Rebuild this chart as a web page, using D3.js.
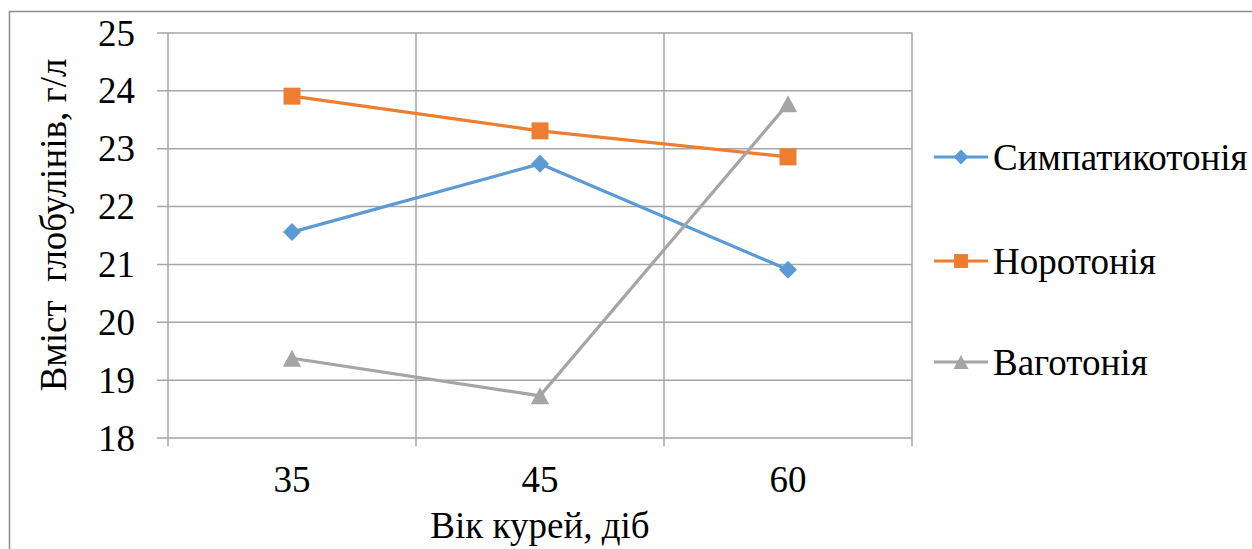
<!DOCTYPE html>
<html>
<head>
<meta charset="utf-8">
<script src="https://cdn.jsdelivr.net/npm/d3@7"></script>
</head>
<body style="margin:0">
<svg id="chart" width="1252" height="549"></svg>
<script>
// Age of the birds, days
const categories = ["35", "45", "60"];
// Globulin content, g/l, per autonomic tone group
const sympathicotonia = [21.55, 22.73, 20.9];
const normotonia = [23.9, 23.3, 22.85];
const vagotonia = [19.37, 18.72, 23.77];
const yTicks = [18, 19, 20, 21, 22, 23, 24, 25];
const seriesNames = ["Симпатикотонія", "Норотонія", "Ваготонія"];

const FONT = "Tinos, 'Liberation Serif', 'Times New Roman', serif";
const FS = "37px";

// marker outlines, centred on the point
function diamond(r) { return `M0,${-r}L${r},0L0,${r}L${-r},0Z`; }
function square(r) { return `M${-r},${-r}H${r}V${r}H${-r}Z`; }
function triangle(r) { return `M0,${-r}L${r * 1.08},${r}H${-r * 1.08}Z`; }

const series = [
  { name: seriesNames[0], values: sympathicotonia, color: "#5B9BD5", marker: diamond, r: 9 },
  { name: seriesNames[1], values: normotonia, color: "#ED7D31", marker: square, r: 8.5 },
  { name: seriesNames[2], values: vagotonia, color: "#A5A5A5", marker: triangle, r: 8.5 }
];

const svg = d3.select("#chart");
const margin = { left: 168, right: 340, top: 32.5, bottom: 111.5 };
const W = 1252, H = 549;
const plotW = W - margin.left - margin.right;
const plotH = H - margin.top - margin.bottom;

// outer chart frame (top and left edges fall inside the page)
svg.append("path")
  .attr("d", `M9.5,${H}V11.5H${W}`)
  .attr("fill", "none").attr("stroke", "#8c8c8c").attr("stroke-width", 1.5);

const x = d3.scaleBand().domain(categories).range([0, plotW]).padding(0);
const y = d3.scaleLinear().domain([18, 25]).range([plotH, 0]);

const g = svg.append("g").attr("transform", `translate(${margin.left},${margin.top})`);

const gridColor = "#a6a6a6";

// horizontal gridlines with outside tick marks
const yAxis = g.append("g")
  .call(d3.axisLeft(y).tickValues(yTicks).tickSize(-plotW).tickSizeOuter(0).tickPadding(33).tickFormat(d3.format("d")));
yAxis.attr("font-family", FONT).attr("font-size", FS);
yAxis.select(".domain").remove();
yAxis.selectAll(".tick line")
  .attr("x1", -11).attr("x2", plotW)
  .attr("stroke", gridColor).attr("stroke-width", 1.5);
yAxis.selectAll(".tick text")
  .attr("font-family", FONT).attr("font-size", FS)
  .attr("fill", "#000").attr("dy", "0.34em");

// vertical gridlines on category boundaries
const bounds = categories.map(c => x(c)).concat([plotW]);
g.append("g").selectAll("line")
  .data(bounds)
  .join("line")
  .attr("x1", d => d).attr("x2", d => d)
  .attr("y1", 0).attr("y2", plotH + 9)
  .attr("stroke", gridColor).attr("stroke-width", 1.5);

// category labels
const xAxis = g.append("g").attr("transform", `translate(0,${plotH})`)
  .call(d3.axisBottom(x).tickSize(0).tickPadding(28.5));
xAxis.attr("font-family", FONT).attr("font-size", FS);
xAxis.select(".domain").remove();
xAxis.selectAll(".tick text")
  .attr("font-family", FONT).attr("font-size", FS).attr("fill", "#000");

// axis titles
svg.append("text")
  .attr("x", margin.left + plotW / 2).attr("y", 538)
  .attr("text-anchor", "middle")
  .attr("font-family", FONT).attr("font-size", FS)
  .text("Вік курей, діб");

svg.append("text")
  .attr("transform", "translate(66,225) rotate(-90)")
  .attr("text-anchor", "middle")
  .attr("font-family", FONT).attr("font-size", FS)
  .attr("xml:space", "preserve")
  .text("Вміст  глобулінів, г/л");

// series lines and markers
const cx = i => x(categories[i]) + x.bandwidth() / 2;
const line = d3.line().x((d, i) => cx(i)).y(d => y(d));

series.forEach(s => {
  g.append("path")
    .datum(s.values)
    .attr("d", line)
    .attr("fill", "none")
    .attr("stroke", s.color)
    .attr("stroke-width", 3.2)
    .attr("stroke-linejoin", "round");
  g.append("g").selectAll("path")
    .data(s.values)
    .join("path")
    .attr("transform", (d, i) => `translate(${cx(i)},${y(d)})`)
    .attr("d", s.marker(s.r))
    .attr("fill", s.color);
});

// legend
const legend = svg.append("g").attr("transform", "translate(934,0)");
const legendY = [157, 261, 362];
series.forEach((s, i) => {
  const row = legend.append("g").attr("transform", `translate(0,${legendY[i]})`);
  row.append("line").attr("x1", 0).attr("x2", 54).attr("y1", 0).attr("y2", 0)
    .attr("stroke", s.color).attr("stroke-width", 3.2);
  row.append("path")
    .attr("transform", "translate(27,0)")
    .attr("d", s.marker(s.r * 0.82))
    .attr("fill", s.color);
  row.append("text").attr("x", 59).attr("y", 0).attr("dy", "0.34em")
    .attr("font-family", FONT).attr("font-size", FS)
    .text(s.name);
});
</script>
</body>
</html>
